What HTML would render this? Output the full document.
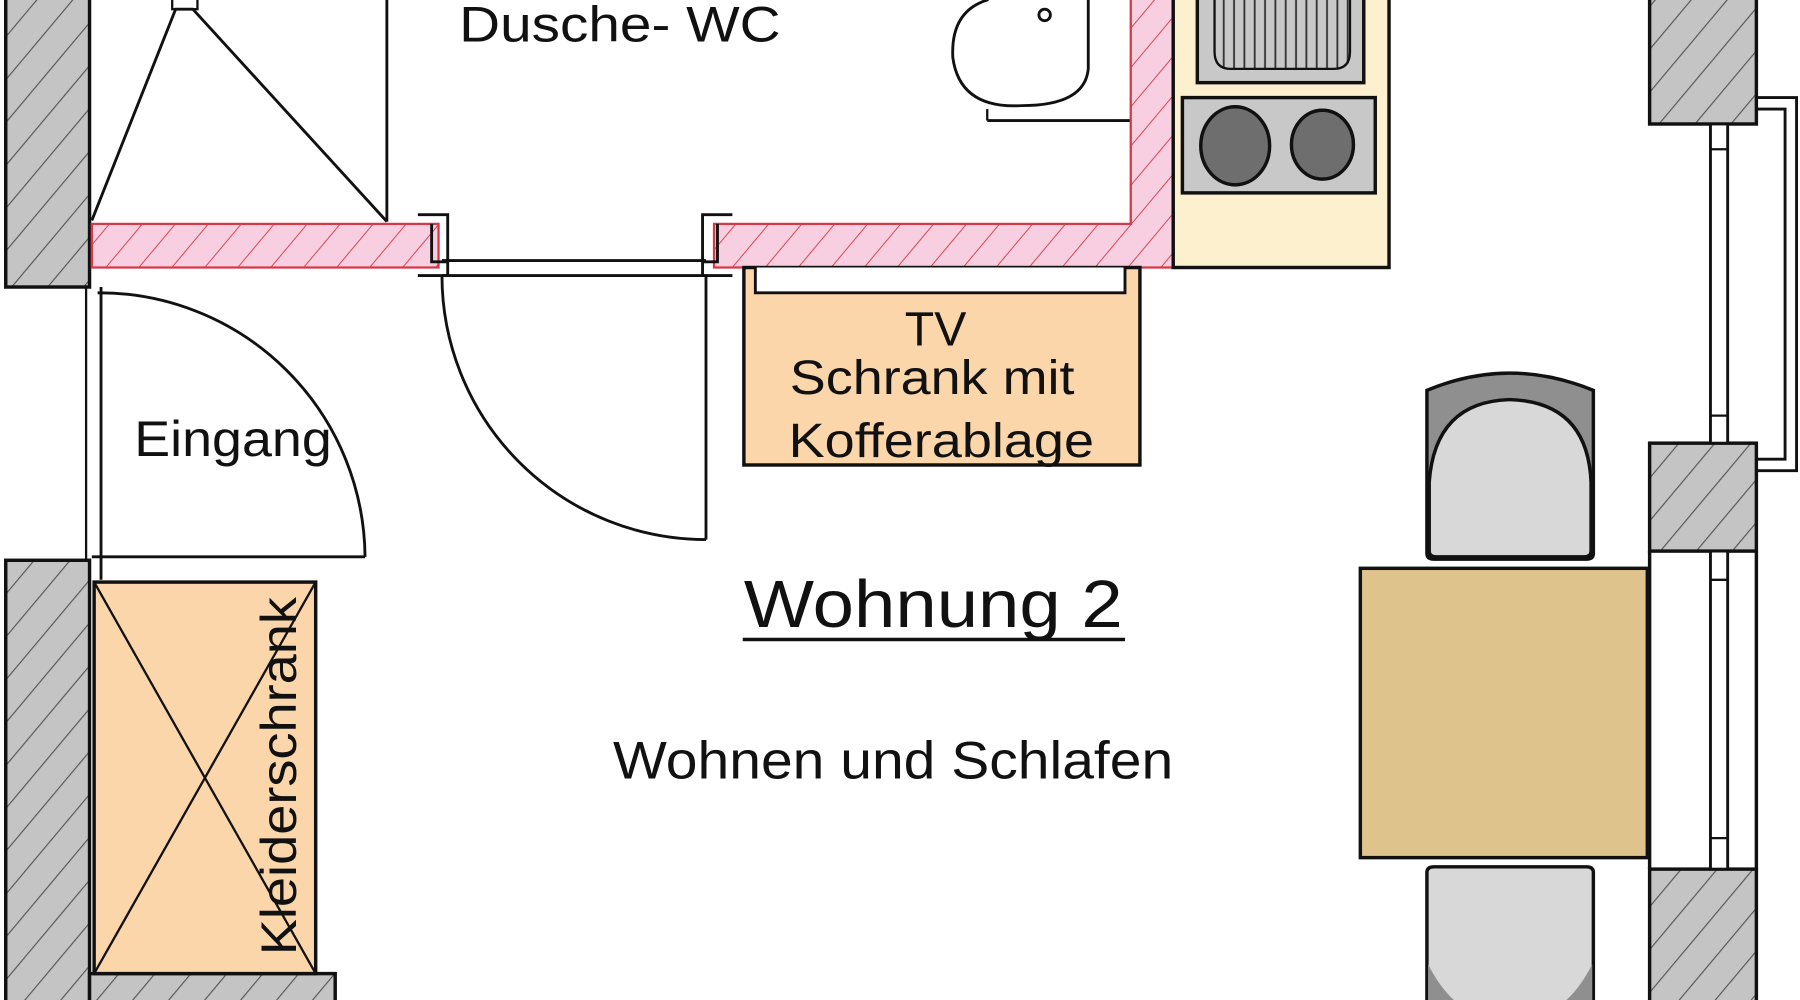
<!DOCTYPE html>
<html><head><meta charset="utf-8"><style>html,body{margin:0;padding:0;background:#fff}svg{display:block}text{font-family:"Liberation Sans",Arial,sans-serif;fill:#111}</style></head>
<body>
<svg width="1800" height="1000" viewBox="0 0 1568 871" preserveAspectRatio="none" xmlns="http://www.w3.org/2000/svg">
<defs>
<pattern id="gh" patternUnits="userSpaceOnUse" width="24" height="24" patternTransform="rotate(40)">
<rect width="24" height="24" fill="#c4c4c4"/><line x1="0" y1="0" x2="0" y2="24" stroke="#555" stroke-width="2"/></pattern>
<pattern id="ph" patternUnits="userSpaceOnUse" width="22" height="22" patternTransform="rotate(40)">
<rect width="22" height="22" fill="#f8cfe0"/><line x1="0" y1="0" x2="0" y2="22" stroke="#d43a4a" stroke-width="1.6"/></pattern>
<pattern id="st" patternUnits="userSpaceOnUse" width="9" height="10">
<rect width="9" height="10" fill="#c8c8c8"/><line x1="4" y1="0" x2="4" y2="10" stroke="#333" stroke-width="1.6"/></pattern>
</defs>
<rect width="1568" height="871" fill="#fff"/>

<rect x="5" y="-5" width="73" height="255" fill="url(#gh)" stroke="#111" stroke-width="3"/>
<rect x="5" y="488" width="73" height="390" fill="url(#gh)" stroke="#111" stroke-width="3"/>
<rect x="78" y="848" width="214" height="30" fill="url(#gh)" stroke="#111" stroke-width="3"/>

<line x1="337" y1="0" x2="337" y2="193" stroke="#111" stroke-width="2.5"/>
<rect x="150" y="-4" width="22" height="12" fill="#fff" stroke="#111" stroke-width="2"/>
<polyline points="80,192 153,8 168,8 337,193" fill="none" stroke="#111" stroke-width="2.5"/>
<text x="400" y="36" font-size="44" textLength="280" lengthAdjust="spacingAndGlyphs">Dusche- WC</text>

<path d="M860,-2 L860,0 Q828,10 830,50 Q836,95 890,92 Q945,92 948,60 L948,-2" fill="#fff" stroke="#111" stroke-width="2.5"/>
<line x1="860" y1="105" x2="985" y2="105" stroke="#111" stroke-width="2.5"/>
<path d="M860,95 L860,105" stroke="#111" stroke-width="2"/>
<circle cx="910" cy="13" r="5" fill="#fff" stroke="#111" stroke-width="2.5"/>

<path d="M80,195 L382,195 L382,233 L80,233 Z" fill="url(#ph)" stroke="#d43a4a" stroke-width="2"/>
<path d="M622,195 L985,195 L985,-2 L1022,-2 L1022,233 L622,233 Z" fill="url(#ph)" stroke="#d43a4a" stroke-width="2"/>

<path d="M364,187 L390,187 L390,240 L364,240 M376,195 L376,228 L390,228" fill="none" stroke="#111" stroke-width="2.5"/>
<path d="M638,187 L612,187 L612,240 L638,240 M625,195 L625,228 L612,228" fill="none" stroke="#111" stroke-width="2.5"/>
<line x1="385" y1="227" x2="615" y2="227" stroke="#111" stroke-width="2.5"/>
<line x1="385" y1="240" x2="615" y2="240" stroke="#111" stroke-width="2.5"/>
<line x1="615" y1="240" x2="615" y2="470" stroke="#111" stroke-width="2.5"/>
<path d="M385,240 A230,230 0 0 0 615,470" fill="none" stroke="#111" stroke-width="2.5"/>

<line x1="75" y1="250" x2="75" y2="488" stroke="#111" stroke-width="2"/>
<line x1="88" y1="250" x2="88" y2="505" stroke="#111" stroke-width="2.5"/>
<line x1="80" y1="485" x2="318" y2="485" stroke="#111" stroke-width="2.5"/>
<path d="M85,255 A232,232 0 0 1 318,485" fill="none" stroke="#111" stroke-width="2.5"/>
<text x="117" y="397" font-size="44" textLength="172" lengthAdjust="spacingAndGlyphs">Eingang</text>

<rect x="82" y="507" width="193" height="341" fill="#fbd6aa" stroke="#111" stroke-width="3"/>
<line x1="82" y1="507" x2="275" y2="848" stroke="#111" stroke-width="2"/>
<line x1="275" y1="507" x2="82" y2="848" stroke="#111" stroke-width="2"/>
<text transform="translate(258,832) rotate(-90)" font-size="44" textLength="312" lengthAdjust="spacingAndGlyphs">Kleiderschrank</text>

<rect x="648" y="233" width="345" height="172" fill="#fbd6aa" stroke="#111" stroke-width="3"/>
<path d="M658,233 L658,255 L980,255 L980,233" fill="#fff" stroke="#111" stroke-width="2.5"/>
<text x="815" y="301" font-size="42" text-anchor="middle">TV</text>
<text x="812" y="343" font-size="42" text-anchor="middle" textLength="248" lengthAdjust="spacingAndGlyphs">Schrank mit</text>
<text x="820" y="398" font-size="42" text-anchor="middle" textLength="266" lengthAdjust="spacingAndGlyphs">Kofferablage</text>

<rect x="1022" y="-3" width="188" height="236" fill="#fdf0cf" stroke="#111" stroke-width="3"/>
<rect x="1043" y="-3" width="145" height="75" fill="#c8c8c8" stroke="#111" stroke-width="3"/>
<path d="M1058,-3 L1058,45 Q1058,60 1072,60 L1162,60 Q1176,60 1176,45 L1176,-3 Z" fill="url(#st)" stroke="#111" stroke-width="2"/>
<rect x="1030" y="85" width="168" height="83" fill="#c8c8c8" stroke="#111" stroke-width="3"/>
<ellipse cx="1076" cy="127" rx="30" ry="34" fill="#6e6e6e" stroke="#111" stroke-width="3"/>
<ellipse cx="1152" cy="126" rx="27" ry="30" fill="#6e6e6e" stroke="#111" stroke-width="3"/>

<rect x="1437" y="-5" width="93" height="113" fill="url(#gh)" stroke="#111" stroke-width="3"/>
<rect x="1437" y="386" width="93" height="94" fill="url(#gh)" stroke="#111" stroke-width="3"/>
<rect x="1437" y="757" width="93" height="120" fill="url(#gh)" stroke="#111" stroke-width="3"/>
<path d="M1530,85 L1565,85 L1565,410 L1530,410 M1530,95 L1555,95 L1555,400 L1530,400" fill="none" stroke="#111" stroke-width="2.5"/>
<rect x="1490" y="108" width="15" height="278" fill="#fff" stroke="#111" stroke-width="2.5"/>
<line x1="1490" y1="130" x2="1505" y2="130" stroke="#111" stroke-width="2"/>
<line x1="1490" y1="362" x2="1505" y2="362" stroke="#111" stroke-width="2"/>
<line x1="1437" y1="480" x2="1437" y2="757" stroke="#111" stroke-width="3"/>
<line x1="1530" y1="480" x2="1530" y2="757" stroke="#111" stroke-width="3"/>
<rect x="1490" y="480" width="15" height="277" fill="#fff" stroke="#111" stroke-width="2.5"/>
<line x1="1490" y1="505" x2="1505" y2="505" stroke="#111" stroke-width="2"/>
<line x1="1490" y1="730" x2="1505" y2="730" stroke="#111" stroke-width="2"/>

<path d="M1243,340 Q1315,310 1388,340 L1388,482 Q1388,487 1382,487 L1249,487 Q1243,487 1243,482 Z" fill="#8f8f8f" stroke="#111" stroke-width="3"/>
<path d="M1245,420 Q1250,350 1315,348 Q1383,350 1386,420 L1386,480 Q1386,485 1380,485 L1251,485 Q1245,485 1245,480 Z" fill="#d8d8d8" stroke="#111" stroke-width="3"/>
<rect x="1185" y="495" width="250" height="252" fill="#dfc38c" stroke="#111" stroke-width="3"/>
<path d="M1243,760 Q1243,755 1249,755 L1382,755 Q1388,755 1388,760 L1388,880 L1243,880 Z" fill="#d8d8d8" stroke="#111" stroke-width="3"/>
<path d="M1244,840 Q1260,871 1280,880 L1244,880 Z M1387,840 Q1371,871 1351,880 L1387,880 Z" fill="#8f8f8f"/>

<text x="813" y="546" font-size="58" text-anchor="middle" textLength="330" lengthAdjust="spacingAndGlyphs">Wohnung 2</text>
<line x1="647" y1="557" x2="980" y2="557" stroke="#111" stroke-width="3"/>
<text x="778" y="678" font-size="46" text-anchor="middle" textLength="488" lengthAdjust="spacingAndGlyphs">Wohnen und Schlafen</text>
</svg>
</body></html>
